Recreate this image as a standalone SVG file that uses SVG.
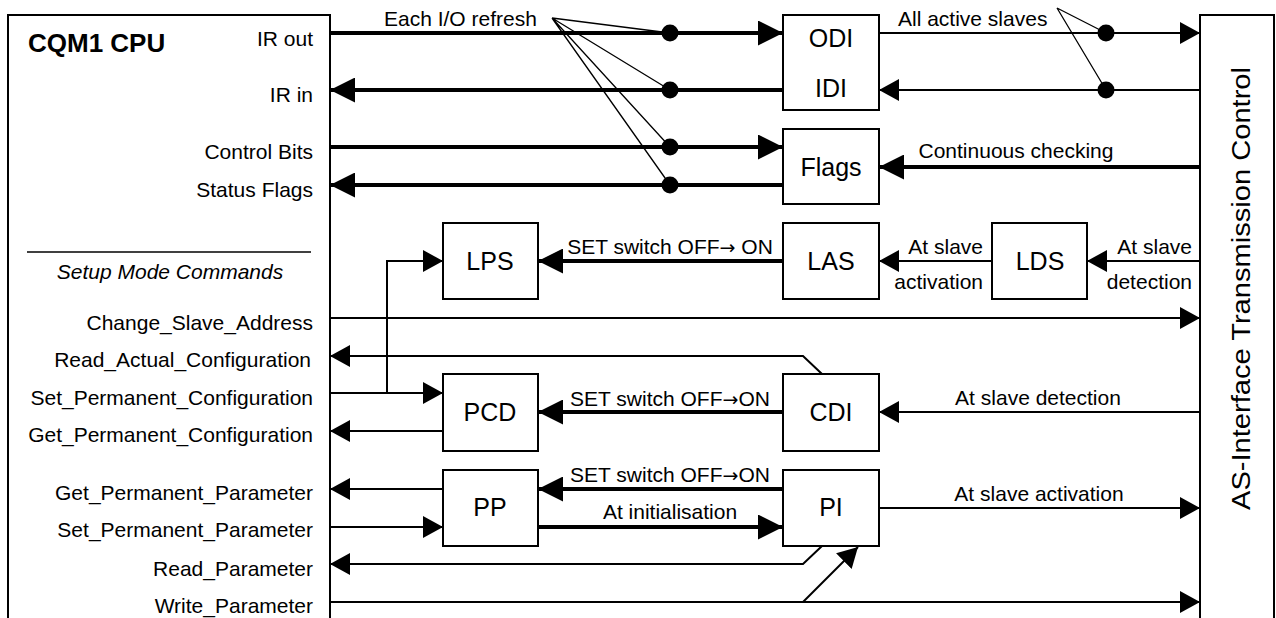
<svg xmlns="http://www.w3.org/2000/svg" width="1276" height="618" viewBox="0 0 1276 618">
<style>
text{font-family:"Liberation Sans",Arial,sans-serif;fill:#000}
.lbl{font-size:21px}
.r{text-anchor:end}
.m{text-anchor:middle}
.bx{font-size:25px;text-anchor:middle}
.ar{font-family:"DejaVu Sans",sans-serif;font-size:19px}
.box{fill:#fff;stroke:#000;stroke-width:2}
.thick{fill:none;stroke:#000;stroke-width:4}
.thin{fill:none;stroke:#000;stroke-width:2}
.call{fill:none;stroke:#000;stroke-width:1.3}
.dot{fill:#000}
</style>
<defs>
<marker id="ah" markerWidth="25" markerHeight="25" refX="25" refY="12.5" orient="auto" markerUnits="userSpaceOnUse"><path d="M0,0 L25,12.5 L0,25 z" fill="#000"/></marker>
<marker id="at" markerWidth="20" markerHeight="22" refX="20" refY="11" orient="auto" markerUnits="userSpaceOnUse"><path d="M0,0 L20,11 L0,22 z" fill="#000"/></marker>
</defs>
<rect width="1276" height="618" fill="#fff"/>

<g id="cpu">
<path d="M8,640 V15 H330 V640" class="thin"/>
<text x="28" y="52" style="font-size:26px;font-weight:bold">CQM1 CPU</text>
<text class="lbl r" x="313" y="46">IR out</text>
<text class="lbl r" x="313" y="102">IR in</text>
<text class="lbl r" x="313" y="159">Control Bits</text>
<text class="lbl r" x="313" y="197">Status Flags</text>
<line x1="27" y1="252" x2="311" y2="252" stroke="#000" stroke-width="1.5"/>
<text class="lbl m" x="170" y="279" style="font-style:italic">Setup Mode Commands</text>
<text class="lbl r" x="313" y="330">Change_Slave_Address</text>
<text class="lbl r" x="311" y="367">Read_Actual_Configuration</text>
<text class="lbl r" x="313" y="405">Set_Permanent_Configuration</text>
<text class="lbl r" x="313" y="442">Get_Permanent_Configuration</text>
<text class="lbl r" x="313" y="500">Get_Permanent_Parameter</text>
<text class="lbl r" x="313" y="537">Set_Permanent_Parameter</text>
<text class="lbl r" x="313" y="576">Read_Parameter</text>
<text class="lbl r" x="313" y="613">Write_Parameter</text>
</g>

<g id="asi">
<path d="M1200,640 V15 H1274 V640" class="thin"/>
<text transform="translate(1250,288.5) rotate(-90)" class="m" style="font-size:26px" textLength="443" lengthAdjust="spacingAndGlyphs">AS-Interface Transmission Control</text>
</g>

<g id="connectors">
<path class="thick" d="M330,33 H783" marker-end="url(#ah)"/>
<path class="thick" d="M783,90 H330" marker-end="url(#ah)"/>
<path class="thick" d="M330,147 H783" marker-end="url(#ah)"/>
<path class="thick" d="M783,185 H330" marker-end="url(#ah)"/>
<path class="thick" d="M1200,167 H879" marker-end="url(#ah)"/>
<path class="thick" d="M783,261 H538" marker-end="url(#ah)"/>
<path class="thick" d="M783,412 H538" marker-end="url(#ah)"/>
<path class="thick" d="M783,489 H538" marker-end="url(#ah)"/>
<path class="thick" d="M538,527 H783" marker-end="url(#ah)"/>
<path class="thin" d="M879,33 H1200" marker-end="url(#at)"/>
<path class="thin" d="M1200,90 H879" marker-end="url(#at)"/>
<path class="thin" d="M1200,261 H1087" marker-end="url(#at)"/>
<path class="thin" d="M992,261 H879" marker-end="url(#at)"/>
<path class="thin" d="M330,318 H1200" marker-end="url(#at)"/>
<path class="thin" d="M822,374 L803,356 H330" marker-end="url(#at)"/>
<path class="thin" d="M330,393 H443" marker-end="url(#at)"/>
<path class="thin" d="M387,393 V261 H443" marker-end="url(#at)"/>
<path class="thin" d="M443,431 H330" marker-end="url(#at)"/>
<path class="thin" d="M1200,412 H879" marker-end="url(#at)"/>
<path class="thin" d="M443,489 H330" marker-end="url(#at)"/>
<path class="thin" d="M330,527 H443" marker-end="url(#at)"/>
<path class="thin" d="M879,508 H1200" marker-end="url(#at)"/>
<path class="thin" d="M822,546 L803,564 H330" marker-end="url(#at)"/>
<path class="thin" d="M330,602 H1200" marker-end="url(#at)"/>
<path class="thin" d="M803,602 L858,547" marker-end="url(#at)"/>
<path class="call" d="M552,18 L670,33 M552,18 L670,90 M552,18 L670,147 M552,18 L670,185"/>
<path class="call" d="M1057,8 L1106,33 M1057,8 L1106,90"/>
<circle class="dot" cx="670" cy="33" r="8.5"/>
<circle class="dot" cx="670" cy="90" r="8.5"/>
<circle class="dot" cx="670" cy="147" r="8.5"/>
<circle class="dot" cx="670" cy="185" r="8.5"/>
<circle class="dot" cx="1106" cy="33" r="8.5"/>
<circle class="dot" cx="1106" cy="90" r="8.5"/>
<text class="lbl" x="384" y="26">Each I/O refresh</text>
<text class="lbl" x="898" y="26">All active slaves</text>
<text class="lbl m" x="1016" y="158">Continuous checking</text>
<text class="lbl m" x="670" y="254">SET switch OFF<tspan class="ar">→</tspan> ON</text>
<text class="lbl r" x="983" y="254">At slave</text>
<text class="lbl r" x="983" y="289">activation</text>
<text class="lbl r" x="1192" y="254">At slave</text>
<text class="lbl r" x="1192" y="289">detection</text>
<text class="lbl m" x="670" y="406">SET switch OFF<tspan class="ar">→</tspan>ON</text>
<text class="lbl m" x="1038" y="405">At slave detection</text>
<text class="lbl m" x="670" y="482">SET switch OFF<tspan class="ar">→</tspan>ON</text>
<text class="lbl m" x="670" y="519">At initialisation</text>
<text class="lbl m" x="1039" y="501">At slave activation</text>
</g>

<g id="odi_idi">
<rect class="box" x="783" y="15" width="96" height="95"/>
<text class="bx" x="831" y="47">ODI</text>
<text class="bx" x="831" y="97">IDI</text>
</g>
<g id="flags">
<rect class="box" x="783" y="129" width="96" height="75"/>
<text class="bx" x="831" y="176">Flags</text>
</g>
<g id="lps">
<rect class="box" x="443" y="223" width="95" height="76"/>
<text class="bx" x="490" y="270">LPS</text>
</g>
<g id="las">
<rect class="box" x="783" y="223" width="96" height="76"/>
<text class="bx" x="831" y="270">LAS</text>
</g>
<g id="lds">
<rect class="box" x="992" y="223" width="95" height="76"/>
<text class="bx" x="1040" y="270">LDS</text>
</g>
<g id="pcd">
<rect class="box" x="443" y="374" width="95" height="77"/>
<text class="bx" x="490" y="421">PCD</text>
</g>
<g id="cdi">
<rect class="box" x="783" y="374" width="96" height="77"/>
<text class="bx" x="831" y="421">CDI</text>
</g>
<g id="pp">
<rect class="box" x="443" y="470" width="95" height="76"/>
<text class="bx" x="490" y="516">PP</text>
</g>
<g id="pi">
<rect class="box" x="783" y="470" width="96" height="76"/>
<text class="bx" x="831" y="516">PI</text>
</g>
</svg>
